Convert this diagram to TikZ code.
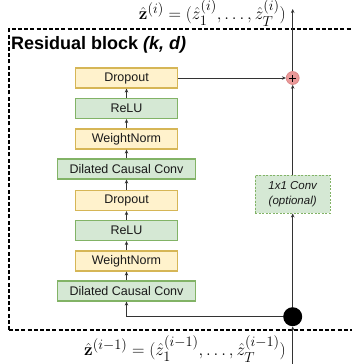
\documentclass[tikz,border=0pt]{standalone}
\usepackage{amsmath}
\usepackage[no-math]{fontspec}
\setmainfont{Liberation Sans}
\usetikzlibrary{arrows.meta}
\definecolor{yfill}{HTML}{FFF2CC}
\definecolor{ydraw}{HTML}{D6B656}
\definecolor{gfill}{HTML}{D5E8D4}
\definecolor{gdraw}{HTML}{82B366}
\definecolor{pfill}{HTML}{EA9999}
\definecolor{pdraw}{HTML}{D88080}
\definecolor{txt}{HTML}{1A1A1A}
\begin{document}
\begin{tikzpicture}[x=1pt,y=-1pt,
  box/.style={draw, line width=1.1pt, minimum height=20pt, inner sep=0pt,
    font=\fontsize{12.5}{14}\selectfont, text=txt},
  ybox/.style={box, fill=yfill, draw=ydraw, minimum width=102pt},
  gbox/.style={box, fill=gfill, draw=gdraw, minimum width=102pt},
  wbox/.style={box, fill=gfill, draw=gdraw, minimum width=138pt},
  arr/.style={-{Stealth[length=4pt,width=3.5pt]}, line width=0.8pt, draw=black!80},
  lbl/.style={font=\fontsize{19}{21}\selectfont, inner sep=0pt}]
\useasboundingbox (0,0) rectangle (352,364);
\clip (0,0) rectangle (352,364);
% dashed residual box
\draw[dashed, dash pattern=on 4pt off 2.2pt, line width=1.3pt] (9,330) -- (9,29) -- (360,29);
\draw[dashed, dash pattern=on 4pt off 2.2pt, line width=1.3pt] (9,330) -- (360,330);
\node[anchor=west, font=\fontsize{18}{20}\selectfont\bfseries, inner sep=0pt] (title) at (11,45) {Residual block \textit{(k, d)}};
% stack
\node[ybox] (drop1) at (126.5,78) {Dropout};
\node[gbox] (relu1) at (126.5,108.5) {ReLU};
\node[ybox] (wn1) at (126.5,139) {WeightNorm};
\node[wbox] (dcc1) at (126.5,169) {Dilated Causal Conv};
\node[ybox] (drop2) at (126.5,200.5) {Dropout};
\node[gbox] (relu2) at (126.5,230.5) {ReLU};
\node[ybox] (wn2) at (126.5,261) {WeightNorm};
\node[wbox] (dcc2) at (126.5,291) {Dilated Causal Conv};
% right column
\node[circle, fill=black, minimum size=19pt, inner sep=0pt] (split) at (292.7,316.7) {};
\node[circle, fill=pfill, draw=pdraw, line width=0.6pt, minimum size=13pt, inner sep=0pt] (plus) at (292.7,78) {};
\draw[line width=1pt] ([xshift=-3.5pt]plus.center) -- ([xshift=3.5pt]plus.center) ([yshift=-3.5pt]plus.center) -- ([yshift=3.5pt]plus.center);
\node[draw=gdraw, fill=gfill, dashed, dash pattern=on 2pt off 1.5pt, line width=0.9pt, minimum width=75pt, minimum height=38pt, inner sep=0pt, align=center, font=\fontsize{11.5}{15}\selectfont\itshape, text=txt] (conv) at (292.7,194) {1x1 Conv\\(optional)};
% coordinates
\coordinate (inbot) at (292.7,364);
\coordinate (outtop) at (292.7,9);
\coordinate (corner) at (126.5,316.7);
% arrows in stack
\draw[arr] (dcc2.north) -- (wn2.south);
\draw[arr] (wn2.north) -- (relu2.south);
\draw[arr] (relu2.north) -- (drop2.south);
\draw[arr] (drop2.north) -- (dcc1.south);
\draw[arr] (dcc1.north) -- (wn1.south);
\draw[arr] (wn1.north) -- (relu1.south);
\draw[arr] (relu1.north) -- (drop1.south);
% input path
\draw[arr] (inbot) -- (split.south);
\draw[arr] (split.west) -- (corner) -- (dcc2.south);
\draw[arr] (split.north) -- (conv.south);
\draw[arr] (conv.north) -- (plus.south);
\draw[arr] (drop1.east) -- (plus.west);
\draw[arr] (plus.north) -- (outtop);
% labels
\node[lbl, anchor=east] (zout) at (286,13) {$\hat{\mathbf{z}}^{(i)} = (\hat{z}_1^{(i)}, \dots, \hat{z}_T^{(i)})$};
\node[lbl, anchor=east] (zin) at (286,349) {$\hat{\mathbf{z}}^{(i-1)} = (\hat{z}_1^{(i-1)}, \dots, \hat{z}_T^{(i-1)})$};
\end{tikzpicture}
\end{document}
